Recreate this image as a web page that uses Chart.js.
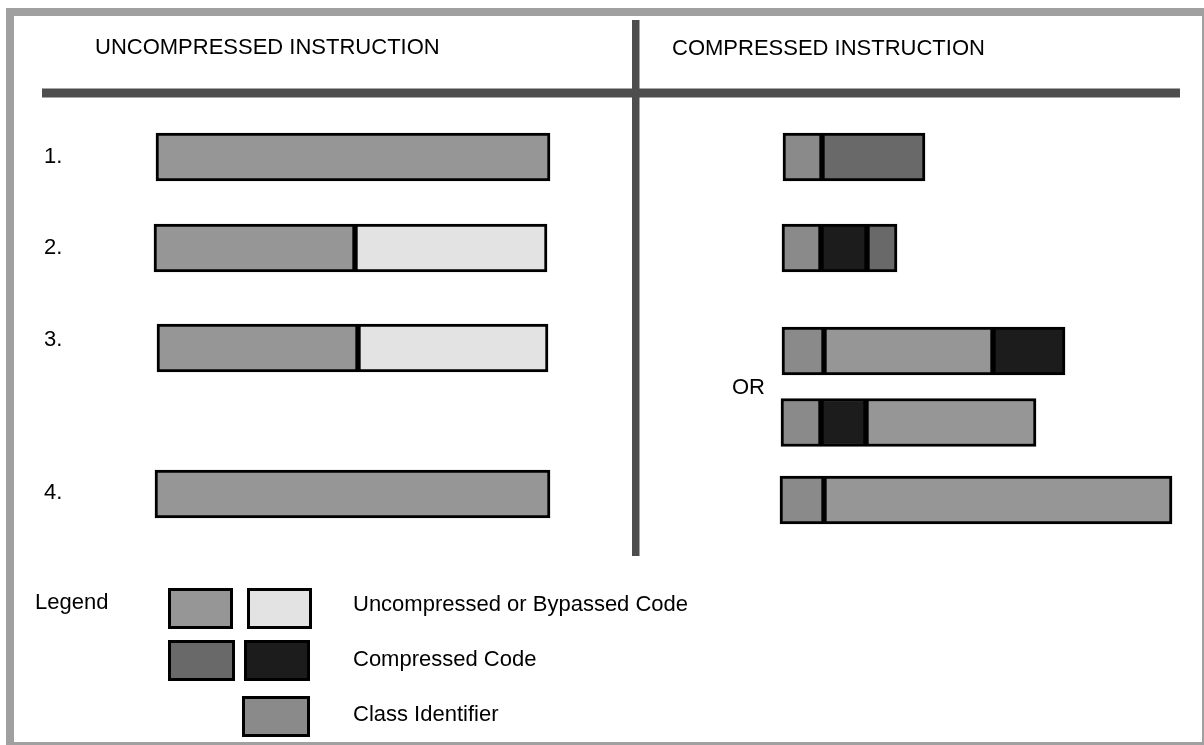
<!DOCTYPE html>
<html>
<head>
<meta charset="utf-8">
<script src="https://cdn.jsdelivr.net/npm/chart.js@4/dist/chart.umd.min.js"></script>
<style>
  html, body { margin: 0; padding: 0; background: #fff; }
  #wrap { width: 1204px; height: 745px; }
</style>
</head>
<body>
<div id="wrap"><canvas id="diagram" width="1204" height="745"></canvas></div>
<script>
// 1 unit = 10 px of the original figure
var rowNames = ['1.', '2.', '3.', '4.'];
var leftRows = [15.7, 24.8, 34.8, 49.4];
var rightRows = [15.7, 24.8, 35.1, 42.25, 50.0];

// left side: uncompressed instructions
var uncompLeft = [[15.6, 55.0], [15.4, 35.5], [15.7, 35.8], [15.5, 55.0]];
var bypassLeft = [null, [35.5, 54.7], [35.8, 54.8], null];

// right side: compressed instructions
var classId = [[78.3, 82.2], [78.2, 82.1], [78.2, 82.4], [78.1, 82.1], [78.0, 82.4]];
var compGray = [[82.2, 92.5], [86.7, 89.7], null, null, null];
var compBlack = [null, [82.1, 86.7], [99.3, 106.5], [82.1, 86.6], null];
var uncompRight = [null, null, [82.4, 99.3], [86.6, 103.6], [82.4, 117.2]];

var legendItems = ['Uncompressed or Bypassed Code', 'Compressed Code', 'Class Identifier'];

var C_UNCOMP = '#969696';
var C_BYPASS = '#e3e3e3';
var C_CLASS = '#8a8a8a';
var C_COMP = '#696969';
var C_BLACK = '#1c1c1c';
var FONT = '22px "Liberation Sans", Arial, sans-serif';

function pts(ranges, rows) {
    var out = [];
    for (var i = 0; i < ranges.length; i++) {
        if (ranges[i]) out.push({ x: ranges[i], y: rows[i] });
    }
    return out;
}

function bar(label, data, color) {
    return {
        label: label,
        data: data,
        backgroundColor: color,
        borderColor: '#000',
        borderWidth: 3,
        borderSkipped: false,
        barThickness: 48,
        grouped: false
    };
}

var decor = {
    id: 'decor',
    beforeDatasetsDraw: function(chart) {
        var ctx = chart.ctx;
        var xs = chart.scales.x, ys = chart.scales.y;
        var px = function(v) { return xs.getPixelForValue(v); };
        var py = function(v) { return ys.getPixelForValue(v); };
        ctx.save();
        // frame
        ctx.fillStyle = '#a0a0a0';
        ctx.fillRect(px(0.6), py(0.8), px(120.4) - px(0.6), py(74.5) - py(0.8));
        ctx.fillStyle = '#fff';
        ctx.fillRect(px(1.4), py(1.6), px(120.2) - px(1.4), py(74.2) - py(1.6));
        // dividers
        ctx.fillStyle = '#4d4d4d';
        ctx.fillRect(px(4.2), py(8.85), px(118.0) - px(4.2), py(9.75) - py(8.85));
        ctx.fillRect(px(63.2), py(2.0), px(63.95) - px(63.2), py(55.6) - py(2.0));
        ctx.restore();
    },
    afterDatasetsDraw: function(chart) {
        var ctx = chart.ctx;
        var xs = chart.scales.x, ys = chart.scales.y;
        var px = function(v) { return xs.getPixelForValue(v); };
        var py = function(v) { return ys.getPixelForValue(v); };
        ctx.save();
        ctx.fillStyle = '#000';
        ctx.font = FONT;
        ctx.textBaseline = 'middle';
        ctx.textAlign = 'left';
        ctx.fillText('UNCOMPRESSED INSTRUCTION', px(9.5), py(4.75));
        ctx.fillText('COMPRESSED INSTRUCTION', px(67.2), py(4.85));
        var labY = [15.7, 24.75, 33.95, 49.25];
        for (var i = 0; i < rowNames.length; i++) {
            ctx.fillText(rowNames[i], px(4.4), py(labY[i]));
        }
        ctx.fillText('OR', px(73.2), py(38.75));

        // legend
        ctx.fillText('Legend', px(3.5), py(60.3));
        var sw = [
            [16.8, 58.8, 23.3, 62.9, C_UNCOMP],
            [24.7, 58.8, 31.2, 62.9, C_BYPASS],
            [16.8, 64.0, 23.5, 68.1, C_COMP],
            [24.4, 64.0, 31.0, 68.1, C_BLACK],
            [24.2, 69.6, 31.0, 73.7, C_CLASS]
        ];
        ctx.lineWidth = 3;
        ctx.strokeStyle = '#000';
        sw.forEach(function(s) {
            var x0 = px(s[0]), y0 = py(s[1]), w = px(s[2]) - x0, h = py(s[3]) - y0;
            ctx.fillStyle = s[4];
            ctx.fillRect(x0, y0, w, h);
            ctx.strokeRect(x0 + 1.5, y0 + 1.5, w - 3, h - 3);
        });
        ctx.fillStyle = '#000';
        var legY = [60.5, 66.0, 71.5];
        for (var j = 0; j < legendItems.length; j++) {
            ctx.fillText(legendItems[j], px(35.3), py(legY[j]));
        }
        ctx.restore();
    }
};

new Chart(document.getElementById('diagram').getContext('2d'), {
    type: 'bar',
    data: {
        datasets: [
            bar('Uncompressed', pts(uncompLeft, leftRows).concat(pts(uncompRight, rightRows)), C_UNCOMP),
            bar('Bypassed', pts(bypassLeft, leftRows), C_BYPASS),
            bar('Class Identifier', pts(classId, rightRows), C_CLASS),
            bar('Compressed', pts(compGray, rightRows), C_COMP),
            bar('Compressed (dark)', pts(compBlack, rightRows), C_BLACK)
        ]
    },
    options: {
        indexAxis: 'y',
        responsive: false,
        animation: false,
        events: [],
        layout: { padding: 0 },
        plugins: {
            legend: { display: false },
            tooltip: { enabled: false },
            title: { display: false }
        },
        scales: {
            x: { type: 'linear', min: 0, max: 120.4, display: false, stacked: false },
            y: { type: 'linear', min: 0, max: 74.5, reverse: true, offset: false, display: false, stacked: false }
        }
    },
    plugins: [decor]
});
</script>
</body>
</html>
